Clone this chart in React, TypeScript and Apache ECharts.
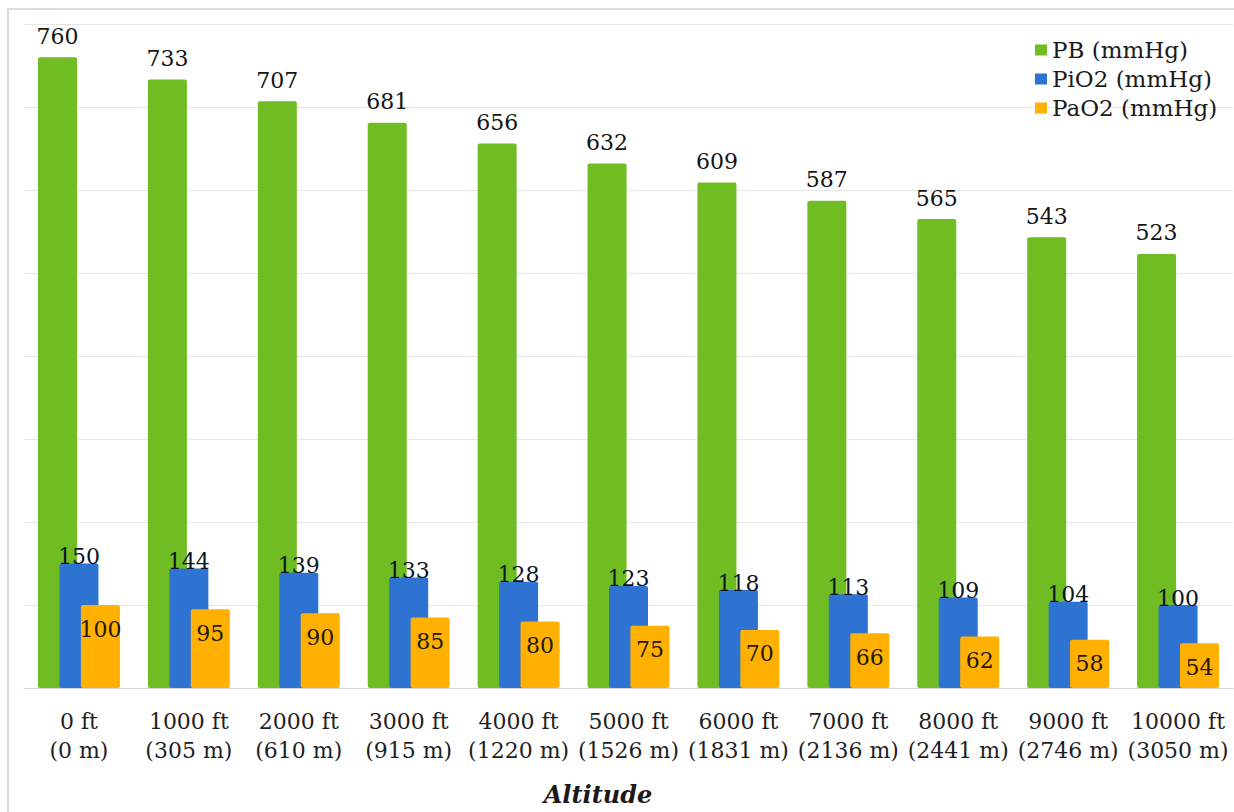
import React, { useEffect, useRef } from "react";
import * as echarts from "echarts";

const feet = ["0 ft", "1000 ft", "2000 ft", "3000 ft", "4000 ft", "5000 ft", "6000 ft", "7000 ft", "8000 ft", "9000 ft", "10000 ft"];
const meters = ["(0 m)", "(305 m)", "(610 m)", "(915 m)", "(1220 m)", "(1526 m)", "(1831 m)", "(2136 m)", "(2441 m)", "(2746 m)", "(3050 m)"];
const pb = [760, 733, 707, 681, 656, 632, 609, 587, 565, 543, 523];
const pio2 = [150, 144, 139, 133, 128, 123, 118, 113, 109, 104, 100];
const pao2 = [100, 95, 90, 85, 80, 75, 70, 66, 62, 58, 54];
const seriesNames = ["PB (mmHg)", "PiO2 (mmHg)", "PaO2 (mmHg)"];
const axisTitle = "Altitude";

const FONT = "DejaVu Serif";

export default function App() {
  const ref = useRef<HTMLDivElement>(null);
  useEffect(() => {
    if (!ref.current) return;
    const chart = echarts.init(ref.current, null, { renderer: "svg" });
    const categories = feet.map((f, i) => f + "\n" + meters[i]);
    const valueLabel = { fontFamily: FONT, fontSize: 22, color: "#141414" };
    chart.setOption({
      animation: false,
      backgroundColor: "#ffffff",
      graphic: [
        {
          type: "rect",
          shape: { x: 8, y: 9, width: 1250, height: 830 },
          style: { fill: "none", stroke: "#dcdcdc", lineWidth: 2 },
          z: 0,
        },
        {
          type: "text",
          x: 598,
          y: 794,
          style: {
            text: axisTitle,
            fontFamily: FONT,
            fontSize: 24,
            fontWeight: "bold",
            fontStyle: "italic",
            fill: "#1a1a1a",
            align: "center",
            verticalAlign: "middle",
          },
        },
      ],
      legend: {
        orient: "vertical",
        left: 1030,
        top: 33,
        itemWidth: 12,
        itemHeight: 11,
        itemGap: 5,
        icon: "rect",
        textStyle: { fontFamily: FONT, fontSize: 23, color: "#1a1a1a", lineHeight: 24 },
        data: seriesNames,
      },
      grid: { left: 24, right: 1, top: 24, bottom: 124, containLabel: false },
      xAxis: {
        type: "category",
        data: categories,
        axisLine: { show: true, lineStyle: { color: "#d4d4d4", width: 1 } },
        axisTick: { show: false },
        axisLabel: {
          fontFamily: FONT,
          fontSize: 22,
          lineHeight: 29,
          color: "#1f1f1f",
          margin: 19,
          interval: 0,
        },
      },
      yAxis: {
        type: "value",
        min: 0,
        max: 800,
        interval: 100,
        axisLabel: { show: false },
        axisLine: { show: false },
        axisTick: { show: false },
        splitLine: { lineStyle: { color: "#e6e6e6", width: 1 } },
      },
      series: [
        {
          name: seriesNames[0],
          type: "bar",
          data: pb,
          barWidth: 39,
          barGap: "-45%",
          itemStyle: { color: "#6fbd22", borderRadius: 2 },
          label: { show: true, position: "top", distance: 10, ...valueLabel },
        },
        {
          name: seriesNames[1],
          type: "bar",
          data: pio2,
          barWidth: 39,
          barGap: "-45%",
          itemStyle: { color: "#2f73d2", borderRadius: 2 },
          label: { show: true, position: "top", distance: -4, ...valueLabel, color: "#0d1524" },
        },
        {
          name: seriesNames[2],
          type: "bar",
          data: pao2,
          barWidth: 39,
          barGap: "-45%",
          itemStyle: { color: "#ffb000", borderRadius: 2 },
          label: { show: true, position: "insideTop", distance: 13, ...valueLabel, color: "#241900" },
        },
      ],
    });
    return () => chart.dispose();
  }, []);
  return (
    <div
      ref={ref}
      style={{ position: "absolute", left: 0, top: 0, width: 1234, height: 812 }}
    />
  );
}
